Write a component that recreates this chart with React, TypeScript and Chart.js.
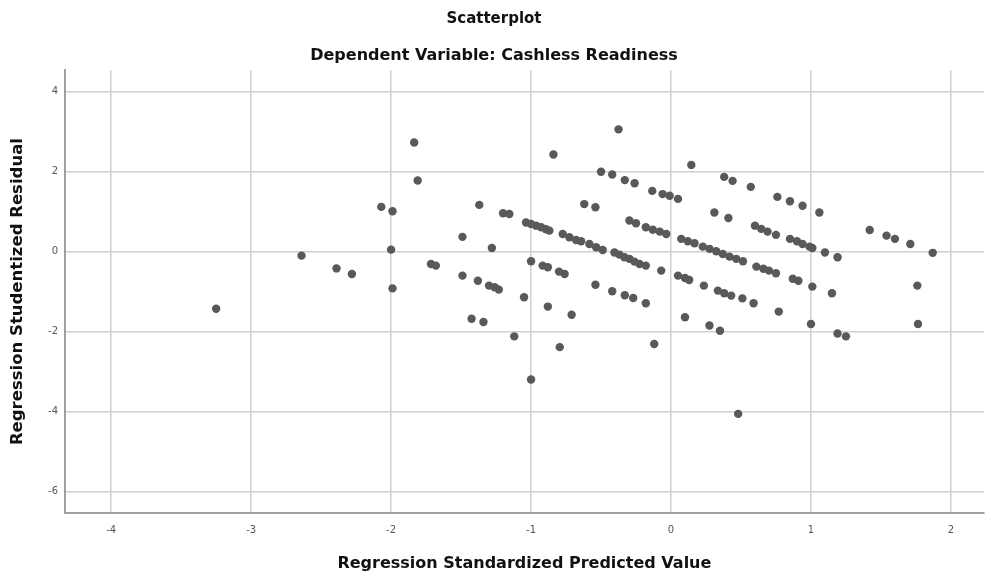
import React, { useEffect, useRef } from "react";
import { Chart, registerables } from "chart.js";

Chart.register(...registerables);

// Regression Standardized Predicted Value (x) and Studentized Residual (y)
const predicted: number[] = [
  -3.25, -2.64, -2.39, -2.28, -2.07, -1.99, -2.0, -1.99, -1.835, -1.81,
  -1.715, -1.68, -1.49, -1.49, -1.37, -1.28, -1.38, -1.3, -1.26, -1.23,
  -1.425, -1.34, -1.2, -1.155, -1.12, -1.05, -1.036, -1.0, -0.964, -0.928,
  -0.893, -0.869, -1.0, -0.917, -0.88, -0.8, -0.76, -0.88, -0.71, -0.795,
  -0.84, -1.0, -0.774, -0.726, -0.678, -0.642, -0.583, -0.535, -0.488, -0.62,
  -0.54, -0.375, -0.5, -0.42, -0.33, -0.26, -0.404, -0.368, -0.333, -0.297,
  -0.261, -0.225, -0.18, -0.54, -0.42, -0.33, -0.27, -0.18, -0.297, -0.25,
  -0.18, -0.13, -0.08, -0.034, -0.134, -0.06, -0.01, 0.05, 0.145, -0.07,
  0.05, 0.1, 0.13, 0.073, 0.12, 0.168, 0.227, 0.275, 0.323, 0.37,
  0.418, 0.466, 0.514, 0.38, 0.44, 0.57, 0.31, 0.41, 0.235, 0.335,
  0.38, 0.43, 0.51, 0.59, 0.1, 0.275, 0.35, -0.12, 0.48, 0.6,
  0.645, 0.69, 0.75, 0.61, 0.66, 0.7, 0.75, 0.76, 0.85, 0.94,
  1.06, 0.85, 0.9, 0.94, 0.99, 1.01, 1.1, 1.19, 0.87, 0.91,
  1.01, 1.15, 0.77, 1.0, 1.19, 1.25, 1.42, 1.54, 1.6, 1.71,
  1.87, 1.76, 1.765,
];

const residual: number[] = [
  -1.43, -0.1, -0.42, -0.56, 1.12, 1.01, 0.05, -0.92, 2.73, 1.78,
  -0.31, -0.35, 0.37, -0.6, 1.17, 0.09, -0.73, -0.85, -0.89, -0.95,
  -1.68, -1.76, 0.96, 0.94, -2.12, -1.14, 0.73, 0.69, 0.65, 0.61,
  0.56, 0.525, -0.24, -0.35, -0.39, -0.5, -0.56, -1.375, -1.58, -2.39,
  2.43, -3.2, 0.44, 0.36, 0.29, 0.26, 0.19, 0.11, 0.04, 1.19,
  1.11, 3.06, 2.0, 1.93, 1.79, 1.71, -0.02, -0.075, -0.14, -0.18,
  -0.25, -0.31, -0.35, -0.83, -0.99, -1.09, -1.16, -1.29, 0.78, 0.71,
  0.61, 0.55, 0.5, 0.44, 1.52, 1.44, 1.4, 1.32, 2.17, -0.475,
  -0.6, -0.66, -0.71, 0.32, 0.26, 0.21, 0.125, 0.07, 0.01, -0.06,
  -0.125, -0.18, -0.24, 1.87, 1.77, 1.62, 0.98, 0.84, -0.85, -0.975,
  -1.04, -1.1, -1.17, -1.29, -1.64, -1.85, -1.98, -2.31, -4.06, 0.65,
  0.57, 0.5, 0.42, -0.375, -0.43, -0.475, -0.54, 1.37, 1.26, 1.15,
  0.98, 0.32, 0.26, 0.19, 0.125, 0.09, -0.02, -0.14, -0.68, -0.73,
  -0.875, -1.04, -1.5, -1.81, -2.05, -2.12, 0.54, 0.4, 0.32, 0.19,
  -0.03, -0.85, -1.81,
];

const xTicks: number[] = [-4, -3, -2, -1, 0, 1, 2];
const yTicks: number[] = [-6, -4, -2, 0, 2, 4];

const chartTitle = "Scatterplot";
const chartSubtitle = "Dependent Variable: Cashless Readiness";
const xTitle = "Regression Standardized Predicted Value";
const yTitle = "Regression Studentized Residual";

const FONT = "'DejaVu Sans', 'Liberation Sans', Arial, sans-serif";

export default function App() {
  const ref = useRef<HTMLCanvasElement | null>(null);

  useEffect(() => {
    if (!ref.current) return;
    const chart = new Chart(ref.current, {
      type: "scatter",
      data: {
        datasets: [
          {
            data: predicted.map((x, i) => ({ x, y: residual[i] })),
            backgroundColor: "#595959",
            borderColor: "#595959",
            borderWidth: 0,
            pointRadius: 4.2,
          },
        ],
      },
      options: {
        animation: false,
        responsive: false,
        layout: { padding: 0 },
        plugins: {
          legend: { display: false },
          tooltip: { enabled: false },
          title: {
            display: true,
            text: chartTitle,
            color: "#111",
            font: { family: FONT, size: 15, weight: "bold" },
            padding: { top: 10, bottom: 18 },
          },
          subtitle: {
            display: true,
            text: chartSubtitle,
            color: "#111",
            font: { family: FONT, size: 16, weight: "bold" },
            padding: { top: 0, bottom: 5 },
          },
        },
        scales: {
          x: {
            type: "linear",
            min: -4.33,
            max: 2.235,
            afterBuildTicks: (s: any) => {
              s.ticks = xTicks.map((v) => ({ value: v }));
            },
            afterFit: (s: any) => {
              s.height = 60;
            },
            grid: { color: "#d0d0d0", lineWidth: 1.5, drawTicks: false },
            border: { color: "#a0a0a0", width: 2 },
            ticks: {
              padding: 11,
              color: "#555",
              font: { family: FONT, size: 10 },
            },
            title: {
              display: true,
              text: xTitle,
              color: "#111",
              font: { family: FONT, size: 16, weight: "bold" },
              padding: { top: 0, bottom: 0 },
            },
          },
          y: {
            type: "linear",
            min: -6.54,
            max: 4.54,
            afterBuildTicks: (s: any) => {
              s.ticks = yTicks.map((v) => ({ value: v }));
            },
            afterFit: (s: any) => {
              s.width = 65;
            },
            grid: { color: "#d0d0d0", lineWidth: 1.5, drawTicks: false },
            border: { color: "#a0a0a0", width: 2 },
            ticks: {
              padding: 7,
              color: "#555",
              font: { family: FONT, size: 10 },
            },
            title: {
              display: true,
              text: yTitle,
              color: "#111",
              font: { family: FONT, size: 16.5, weight: "bold" },
              padding: { top: 8, bottom: 0 },
            },
          },
        },
      },
    });
    return () => chart.destroy();
  }, []);

  return (
    <div
      style={{
        position: "fixed",
        left: 0,
        top: 0,
        width: 988,
        height: 573,
        background: "#fff",
      }}
    >
      <canvas ref={ref} width={988} height={573} style={{ display: "block" }} />
    </div>
  );
}
